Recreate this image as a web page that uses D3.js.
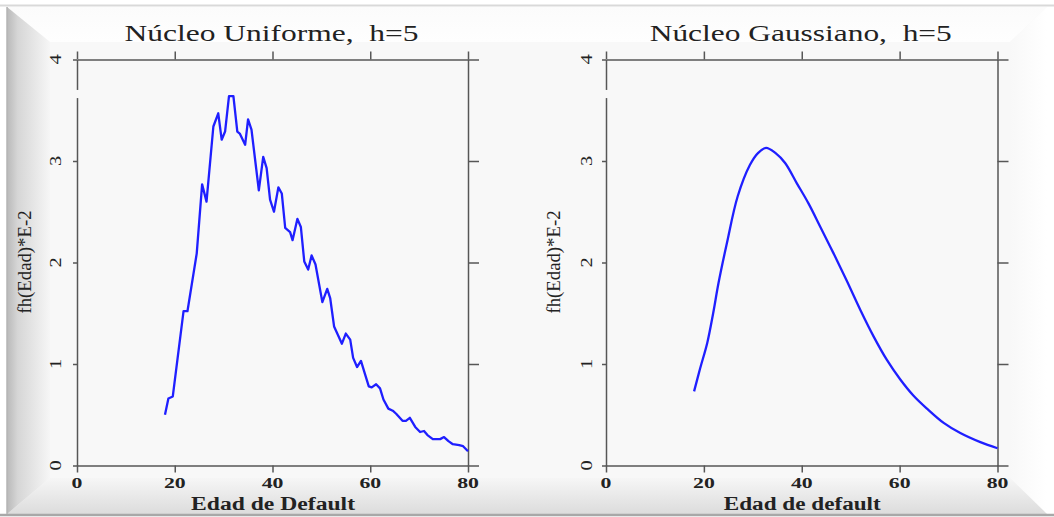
<!DOCTYPE html>
<html>
<head>
<meta charset="utf-8">
<script src="https://cdn.jsdelivr.net/npm/d3@7"></script>
<style>
  html, body { margin: 0; padding: 0; background: #ffffff; }
  svg { display: block; }
  text { font-family: "Liberation Serif", "Times New Roman", serif; fill: #222; white-space: pre; }
</style>
</head>
<body>
<script>
// ---- data ----
const ageUniform = [18.0, 18.7, 19.6, 21.8, 22.6, 24.5, 25.6, 26.5, 27.9, 28.9, 29.6, 30.3, 31.1, 32.0, 32.8, 33.3,
  34.4, 35.0, 35.7, 37.2, 38.1, 38.8, 39.5, 40.3, 41.2, 41.9, 42.6, 43.6, 44.1, 45.1, 45.8, 46.5, 47.3, 48.0, 48.8,
  50.2, 51.2, 51.8, 52.6, 54.2, 55.0, 55.9, 56.5, 57.3, 58.1, 58.8, 59.7, 60.3, 61.2, 62.0, 62.7, 63.7, 64.6, 65.3,
  66.6, 67.3, 68.1, 69.2, 70.2, 71.0, 71.7, 72.8, 74.3, 75.1, 76.0, 76.9, 78.2, 79.0, 80.0];
const densUniform = [0.50, 0.66, 0.68, 1.52, 1.52, 2.09, 2.77, 2.60, 3.34, 3.47, 3.21, 3.29, 3.64, 3.64, 3.29, 3.27,
  3.16, 3.41, 3.31, 2.71, 3.04, 2.93, 2.62, 2.50, 2.74, 2.68, 2.34, 2.30, 2.22, 2.43, 2.35, 2.01, 1.93, 2.07, 1.98,
  1.61, 1.74, 1.65, 1.37, 1.20, 1.30, 1.24, 1.06, 0.97, 1.03, 0.92, 0.78, 0.77, 0.80, 0.76, 0.65, 0.56, 0.54, 0.51,
  0.44, 0.44, 0.47, 0.38, 0.33, 0.34, 0.30, 0.26, 0.26, 0.28, 0.24, 0.21, 0.20, 0.19, 0.14];
const ageGauss = [18.0, 19.2, 20.7, 21.9, 23.0, 24.7, 26.9, 29.4, 31.1, 32.7, 34.6, 36.6, 39.0, 41.4, 43.8, 46.5,
  49.2, 52.0, 54.7, 57.4, 60.1, 62.8, 65.6, 69.0, 72.4, 76.5, 80.0];
const densGauss = [0.73, 0.95, 1.21, 1.50, 1.80, 2.19, 2.65, 2.96, 3.08, 3.13, 3.08, 2.98, 2.78, 2.58, 2.35, 2.09,
  1.82, 1.53, 1.27, 1.04, 0.85, 0.69, 0.56, 0.42, 0.32, 0.23, 0.17];
const xTicks = [0, 20, 40, 60, 80];
const yTicks = [0, 1, 2, 3, 4];
const titles = ["Núcleo Uniforme,  h=5", "Núcleo Gaussiano,  h=5"];
const xLabels = ["Edad de Default", "Edad de default"];
const yLabel = "fh(Edad)*E-2";

const W = 1054, H = 517;
const svg = d3.select("body").append("svg").attr("width", W).attr("height", H);
const defs = svg.append("defs");

function lg(id, x1, y1, x2, y2, stops) {
  const g = defs.append("linearGradient").attr("id", id)
    .attr("x1", x1).attr("y1", y1).attr("x2", x2).attr("y2", y2);
  stops.forEach(s => g.append("stop").attr("offset", s[0]).attr("stop-color", s[1]));
}
lg("gl", 0, 0, 1, 0, [[0, "#b9b9b9"], [0.25, "#d6d6d6"], [1, "#f6f6f6"]]);
lg("gt", 0, 0, 0, 1, [[0, "#fbfbfb"], [1, "#fefefe"]]);
lg("gr", 1, 0, 0, 0, [[0, "#ffffff"], [1, "#f8f8f8"]]);
lg("gb", 0, 1, 0, 0, [[0, "#dcdcdc"], [1, "#f6f6f6"]]);

// frame (bevelled picture border)
const fL = 7, fR = 1047, fT = 7, fB = 514, inL = 50, inR = 1010, inT = 42, inB = 478;
svg.append("rect").attr("x", fL).attr("y", fT).attr("width", fR - fL).attr("height", fB - fT).attr("fill", "#f7f7f7");
svg.append("polygon").attr("points", `${fL},${fT} ${fR},${fT} ${inR},${inT} ${inL},${inT}`).attr("fill", "url(#gt)");
svg.append("polygon").attr("points", `${fR},${fT} ${fR},${fB} ${inR},${inB} ${inR},${inT}`).attr("fill", "url(#gr)");
svg.append("polygon").attr("points", `${fL},${fB} ${fR},${fB} ${inR},${inB} ${inL},${inB}`).attr("fill", "url(#gb)");
svg.append("polygon").attr("points", `${fL},${fT} ${inL},${inT} ${inL},${inB} ${fL},${fB}`).attr("fill", "url(#gl)");
svg.append("rect").attr("x", inL).attr("y", inT).attr("width", inR - inL).attr("height", inB - inT).attr("fill", "#f8f8f8");
svg.append("line").attr("x1", 0).attr("x2", W).attr("y1", 5.5).attr("y2", 5.5).attr("stroke", "#d9d9d9").attr("stroke-width", 2);
svg.append("line").attr("x1", 0).attr("x2", W).attr("y1", 515).attr("y2", 515).attr("stroke", "#a8a8a8").attr("stroke-width", 2.5);
svg.append("line").attr("x1", fL).attr("x2", fL).attr("y1", fT).attr("y2", fB).attr("stroke", "#b5b5b5").attr("stroke-width", 1.5);

const panels = [
  { x0: 77, x1: 468, age: ageUniform, dens: densUniform, curve: d3.curveLinear, ylx: 31, ytx: 55 },
  { x0: 606, x1: 997.5, age: ageGauss, dens: densGauss, curve: d3.curveCatmullRom.alpha(0.5), ylx: 560, ytx: 586 }
];
const yTop = 59.5, yBot = 465.5;
const axisColor = "#575757";

panels.forEach((p, i) => {
  const x = d3.scaleLinear().domain([0, 80]).range([p.x0, p.x1]);
  const y = d3.scaleLinear().domain([0, 4]).range([yBot, yTop]);
  const g = svg.append("g");

  const style = sel => {
    sel.selectAll("path.domain").attr("stroke", axisColor).attr("stroke-width", 1.5);
    sel.selectAll(".tick line").attr("stroke", axisColor).attr("stroke-width", 1.5);
  };
  g.append("g").attr("transform", `translate(0,${yBot})`)
    .call(d3.axisBottom(x).tickValues(xTicks).tickSize(7).tickSizeOuter(0).tickFormat("")).call(style);
  g.append("g").attr("transform", `translate(0,${yTop})`)
    .call(d3.axisTop(x).tickValues(xTicks).tickSize(8).tickSizeOuter(0).tickFormat("")).call(style);
  g.append("g").attr("transform", `translate(${p.x0},0)`)
    .call(d3.axisLeft(y).tickValues(yTicks).tickSize(4).tickSizeOuter(0).tickFormat("")).call(style);
  g.append("g").attr("transform", `translate(${p.x1},0)`)
    .call(d3.axisRight(y).tickValues(yTicks).tickSize(11).tickSizeOuter(0).tickFormat("")).call(style);
  // small break in the left axis line seen in the original
  g.append("rect").attr("x", p.x0 - 2).attr("y", y(3.70)).attr("width", 4).attr("height", y(3.62) - y(3.70)).attr("fill", "#f8f8f8");

  // x tick labels (bold, horizontally stretched)
  g.selectAll("text.xt").data(xTicks).join("text").attr("class", "xt")
    .attr("transform", d => `translate(${x(d)},487.5) scale(1.45,1)`)
    .attr("text-anchor", "middle").attr("font-size", 15).attr("font-weight", "bold")
    .text(d => d);
  // y tick labels (rotated)
  g.selectAll("text.yt").data(yTicks).join("text").attr("class", "yt")
    .attr("transform", d => `translate(${p.ytx},${y(d)}) rotate(-90) scale(1.2,1)`)
    .attr("text-anchor", "middle").attr("dominant-baseline", "central").attr("font-size", 17)
    .text(d => d);

  // title
  g.append("text").attr("x", (p.x0 + p.x1) / 2 - 1).attr("y", 40.5)
    .attr("text-anchor", "middle").attr("font-size", 23)
    .attr("textLength", i === 0 ? 294 : 302).attr("lengthAdjust", "spacingAndGlyphs")
    .text(titles[i]);
  // x label
  g.append("text").attr("x", (p.x0 + p.x1) / 2 + 0.5).attr("y", 510)
    .attr("text-anchor", "middle").attr("font-size", 18).attr("font-weight", "bold")
    .attr("textLength", i === 0 ? 164 : 157).attr("lengthAdjust", "spacingAndGlyphs")
    .text(xLabels[i]);
  // y label
  g.append("text").attr("transform", `translate(${p.ylx},262) rotate(-90)`)
    .attr("text-anchor", "middle").attr("font-size", 18)
    .attr("textLength", 103).attr("lengthAdjust", "spacingAndGlyphs")
    .text(yLabel);

  // density curve
  const pts = p.age.map((a, k) => [a, p.dens[k]]);
  g.append("path").datum(pts)
    .attr("fill", "none").attr("stroke", "#1f1fff").attr("stroke-width", 2.3)
    .attr("stroke-linejoin", "round")
    .attr("d", d3.line().x(d => x(d[0])).y(d => y(d[1])).curve(p.curve));
});
</script>
</body>
</html>
